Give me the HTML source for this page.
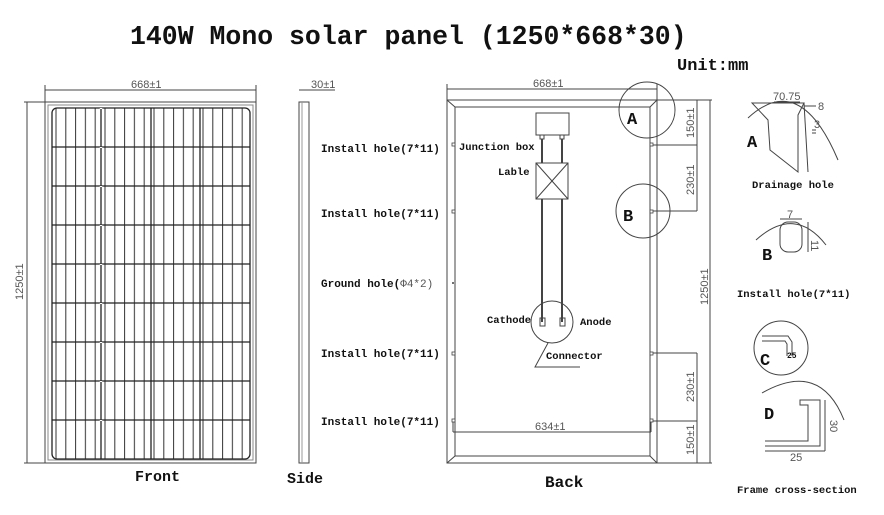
<!DOCTYPE html>
<html><head><meta charset="utf-8"><style>
html,body{margin:0;padding:0;background:#fff;}
svg{display:block}
.t{font-family:"Liberation Mono",monospace;font-weight:bold;fill:#111}
.d{font-family:"Liberation Sans",sans-serif;fill:#555;font-size:11px}
</style></head><body>
<svg width="884" height="515" viewBox="0 0 884 515" xmlns="http://www.w3.org/2000/svg">
<defs>
<pattern id="vl" x="51" y="0" width="9.8" height="10" patternUnits="userSpaceOnUse">
<line x1="5" y1="0" x2="5" y2="10" stroke="#333" stroke-width="1"/>
</pattern>
</defs>
<text x="130" y="44" class="t" font-size="26.5">140W Mono solar panel (1250*668*30)</text>
<text x="677" y="70" class="t" font-size="17">Unit:mm</text>

<!-- FRONT -->
<g stroke="#444" fill="none" stroke-width="1">
<line x1="45" y1="90" x2="256" y2="90"/>
<line x1="45" y1="85" x2="45" y2="102"/><line x1="256" y1="85" x2="256" y2="102"/>
<line x1="24" y1="102" x2="45" y2="102"/><line x1="24" y1="463" x2="45" y2="463"/>
<line x1="27" y1="102" x2="27" y2="463"/>
<rect x="45" y="102" width="211" height="361"/>
<rect x="48" y="105" width="205" height="355" stroke="#888"/>
</g>
<rect x="52" y="108" width="198" height="351" fill="url(#vl)"/>
<g stroke="#222" fill="none" stroke-width="1.3">
<rect x="52" y="108" width="198" height="351" rx="5"/>
<line x1="101" y1="108" x2="101" y2="459"/><line x1="151" y1="108" x2="151" y2="459"/><line x1="200" y1="108" x2="200" y2="459"/>
<line x1="52" y1="147" x2="250" y2="147"/><line x1="52" y1="186" x2="250" y2="186"/><line x1="52" y1="225" x2="250" y2="225"/>
<line x1="52" y1="264" x2="250" y2="264"/><line x1="52" y1="303" x2="250" y2="303"/><line x1="52" y1="342" x2="250" y2="342"/>
<line x1="52" y1="381" x2="250" y2="381"/><line x1="52" y1="420" x2="250" y2="420"/>
</g>
<g stroke="#fff" stroke-width="2.5"><line x1="101" y1="108" x2="101" y2="459" stroke-dasharray="1 38"/></g>
<text x="131" y="88" class="d">668±1</text>
<text transform="translate(23,300) rotate(-90)" class="d">1250±1</text>
<text x="135" y="481" class="t" font-size="15" font-family="Liberation Serif">Front</text>

<!-- SIDE -->
<g stroke="#444" fill="none">
<rect x="299" y="102" width="10" height="361"/>
<line x1="302" y1="102" x2="302" y2="463" stroke="#999"/>
<line x1="299" y1="90" x2="335" y2="90"/>
</g>
<text x="311" y="88" class="d">30±1</text>
<text x="287" y="483" class="t" font-size="15">Side</text>

<!-- labels -->
<g class="t" font-size="11">
<text x="321" y="152">Install hole(7*11)</text>
<text x="321" y="217">Install hole(7*11)</text>
<text x="321" y="287">Ground hole(<tspan font-weight="normal" fill="#555">Φ4*2)</tspan></text>
<text x="321" y="357">Install hole(7*11)</text>
<text x="321" y="425">Install hole(7*11)</text>
</g>

<!-- BACK -->
<g stroke="#444" fill="none" stroke-width="1">
<line x1="447" y1="89" x2="657" y2="89"/>
<line x1="447" y1="84" x2="447" y2="100"/><line x1="657" y1="84" x2="657" y2="100"/>
<rect x="447" y="100" width="210" height="363"/>
<rect x="455" y="107" width="195" height="349"/>
<line x1="447" y1="100" x2="455" y2="107"/><line x1="657" y1="100" x2="650" y2="107"/>
<line x1="447" y1="463" x2="455" y2="456"/><line x1="657" y1="463" x2="650" y2="456"/>
<line x1="657" y1="100" x2="712" y2="100"/><line x1="657" y1="463" x2="712" y2="463"/>
<line x1="710" y1="100" x2="710" y2="463"/>
<line x1="697" y1="100" x2="697" y2="211"/>
<line x1="652" y1="145" x2="697" y2="145"/><line x1="652" y1="211" x2="697" y2="211"/>
<line x1="697" y1="353" x2="697" y2="463"/>
<line x1="652" y1="353" x2="697" y2="353"/><line x1="652" y1="421" x2="697" y2="421"/>
<line x1="453" y1="432" x2="651" y2="432"/>
<line x1="453" y1="421" x2="453" y2="432"/><line x1="651" y1="421" x2="651" y2="432"/>
<circle cx="647" cy="110" r="28"/>
<circle cx="643" cy="211" r="27"/>
<rect x="536" y="113" width="33" height="22"/>
<rect x="540" y="135" width="4" height="4"/><rect x="560" y="135" width="4" height="4"/>
<line x1="542" y1="139" x2="542" y2="322" stroke-width="2"/><line x1="562" y1="139" x2="562" y2="322" stroke-width="2"/>
<rect x="536" y="163" width="32" height="36" fill="#fff"/>
<line x1="536" y1="163" x2="568" y2="199"/><line x1="568" y1="163" x2="536" y2="199"/>
<circle cx="552" cy="322" r="21"/>
<rect x="540" y="318" width="5" height="8"/><rect x="560" y="318" width="5" height="8"/>
<polyline points="548,343 535,367 580,367"/>
</g>
<g fill="#fff" stroke="#444" stroke-width="0.8">
<rect x="452" y="143" width="3" height="3"/><rect x="452" y="210" width="3" height="3"/>
<rect x="452" y="352" width="3" height="3"/><rect x="452" y="419" width="3" height="3"/>
<rect x="650" y="143" width="3" height="3"/><rect x="650" y="210" width="3" height="3"/>
<rect x="650" y="352" width="3" height="3"/><rect x="650" y="419" width="3" height="3"/>
</g>
<circle cx="453" cy="283" r="1" fill="#444"/>
<text x="533" y="87" class="d">668±1</text>
<text x="535" y="430" class="d">634±1</text>
<text transform="translate(694,138) rotate(-90)" class="d">150±1</text>
<text transform="translate(694,195) rotate(-90)" class="d">230±1</text>
<text transform="translate(708,305) rotate(-90)" class="d">1250±1</text>
<text transform="translate(694,402) rotate(-90)" class="d">230±1</text>
<text transform="translate(694,455) rotate(-90)" class="d">150±1</text>
<g class="t" font-family="Liberation Serif">
<text x="627" y="124" font-size="17">A</text>
<text x="623" y="221" font-size="17">B</text>
</g>
<g class="t" font-size="10.5">
<text x="459" y="150">Junction box</text>
<text x="498" y="175">Lable</text>
<text x="487" y="323">Cathode</text>
<text x="580" y="325">Anode</text>
<text x="546" y="359">Connector</text>
</g>
<text x="545" y="487" class="t" font-size="16" font-family="Liberation Serif">Back</text>

<!-- DETAILS -->
<g stroke="#444" fill="none" stroke-width="1">
<path d="M748,118 Q800,70 838,160"/>
<polygon points="752,103 804,103 798,115 798,172 770,150 768,120"/>
<line x1="804" y1="103" x2="808" y2="172"/>
<line x1="774" y1="102" x2="800" y2="102"/>
<line x1="804" y1="106" x2="816" y2="106"/>
<line x1="812" y1="130" x2="816" y2="130"/><line x1="812" y1="133" x2="816" y2="133"/>
<path d="M756,240 Q795,205 826,245"/>
<rect x="780" y="222" width="22" height="30" rx="8"/>
<line x1="780" y1="219" x2="802" y2="219"/><line x1="808" y1="222" x2="808" y2="252"/>
<circle cx="781" cy="348" r="27"/>
<polyline points="762,336 788,336 792,342 792,356"/>
<polyline points="762,341 785,341 787,344 787,356"/>
<path d="M762,393 Q820,360 844,420"/>
<polyline points="765,446 820,446 820,400 800,400 800,405 808,405 808,441 765,441"/>
<line x1="765" y1="451" x2="825" y2="451"/>
<line x1="825" y1="400" x2="825" y2="451"/>
</g>
<g class="d" font-size="9">
<text x="773" y="100">70.75</text>
<text x="818" y="110">8</text>
<text x="814" y="128">3</text>
<text x="787" y="218">7</text>
<text transform="translate(811,240) rotate(90)">11</text>
<text transform="translate(830,420) rotate(90)">30</text>
<text x="790" y="461">25</text>
</g>
<g class="t" font-family="Liberation Sans">
<text x="747" y="147" font-size="17">A</text>
<text x="762" y="260" font-size="17">B</text>
<text x="760" y="365" font-size="17">C</text>
<text x="764" y="419" font-size="17">D</text>
</g>
<text x="787" y="358" class="t" font-size="8">25</text>
<g class="t" font-size="10.5">
<text x="752" y="188">Drainage hole</text>
<text x="737" y="297">Install hole(7*11)</text>
<text x="737" y="493">Frame cross-section</text>
</g>
</svg>
</body></html>
